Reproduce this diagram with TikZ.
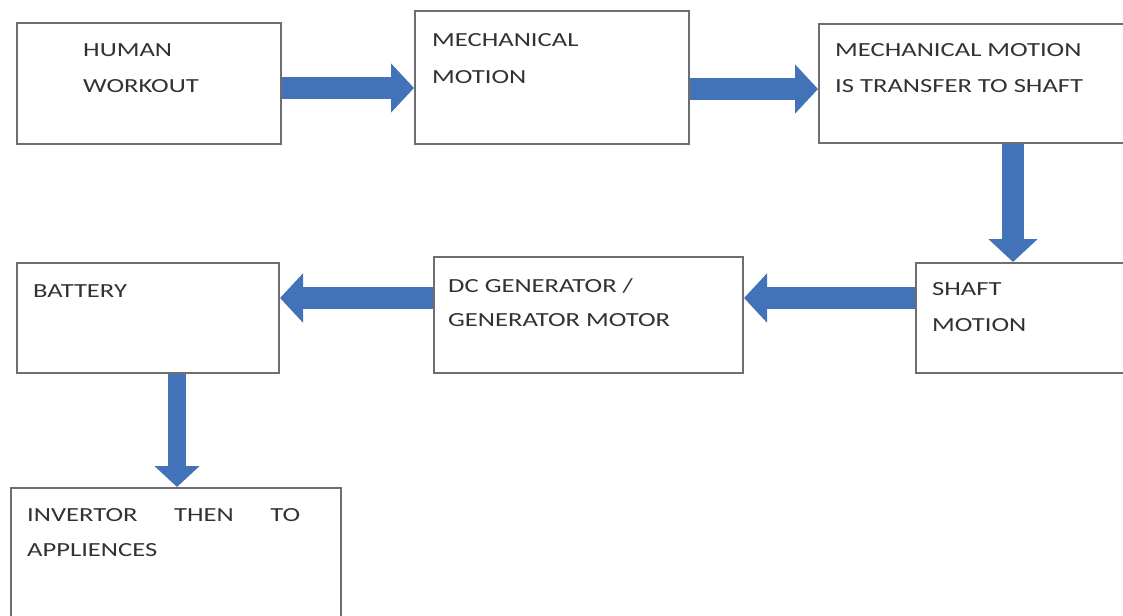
\documentclass[tikz,border=0pt]{standalone}
\usepackage{fontspec}
\setmainfont{Carlito}[FakeStretch=1.33]
\usetikzlibrary{arrows.meta,calc}
\definecolor{arrowblue}{RGB}{66,114,184}
\definecolor{boxgray}{RGB}{110,110,110}
\definecolor{txtgray}{RGB}{50,50,50}
\tikzset{
  stepbox/.style={draw=boxgray,line width=2pt,fill=white,inner sep=0pt,anchor=north west},
  lbl/.style={inner sep=0pt,anchor=base west,text=txtgray,font=\fontsize{20}{24}\selectfont},
  barrow/.style={draw=arrowblue,line width=22pt,-{Triangle[width=48pt,length=23pt]}},
  sarrow/.style={draw=arrowblue,line width=18pt,-{Triangle[width=44pt,length=21pt]}}
}
\begin{document}
\begin{tikzpicture}[x=1pt,y=-1pt]
\useasboundingbox (0,0) rectangle (1123,615);
\clip (0,0) rectangle (1123,615);
% boxes
\node[stepbox,minimum width=264pt,minimum height=121pt] (b1) at (16,22) {};
\node[stepbox,minimum width=274pt,minimum height=133pt] (b2) at (414,10) {};
\node[stepbox,minimum width=390pt,minimum height=119pt] (b3) at (818,23) {};
\node[stepbox,minimum width=262pt,minimum height=110pt] (b4) at (16,262) {};
\node[stepbox,minimum width=309pt,minimum height=116pt] (b5) at (433,256) {};
\node[stepbox,minimum width=300pt,minimum height=110pt] (b6) at (915,262) {};
\node[stepbox,minimum width=330pt,minimum height=160pt] (b7) at (10,487) {};
% texts
\node[lbl] (t1a) at (83,57) {HUMAN};
\node[lbl] (t1b) at (83,93) {WORKOUT};
\node[lbl] (t2a) at (432,47) {MECHANICAL};
\node[lbl] (t2b) at (432,84) {MOTION};
\node[lbl] (t3a) at (835,57) {MECHANICAL MOTION};
\node[lbl] (t3b) at (835,93) {IS TRANSFER TO SHAFT};
\node[lbl] (t4a) at (33,297) {BATTERY};
\node[lbl] (t5a) at (448,292) {DC GENERATOR /};
\node[lbl] (t5b) at (448,326) {GENERATOR MOTOR};
\node[lbl] (t6a) at (932,295) {SHAFT};
\node[lbl] (t6b) at (932,331) {MOTION};
\node[lbl] (t7a) at (27,521) {\makebox[273pt][s]{INVERTOR THEN TO}};
\node[lbl] (t7b) at (27,556) {APPLIENCES};
% arrows
\draw[barrow] ([yshift=-4.5pt]b1.east) -- ([yshift=-4.5pt]b1.east -| b2.west);
\draw[barrow] ([yshift=-11.5pt]b2.east) -- ([yshift=-11.5pt]b2.east -| b3.west);
\draw[barrow] ([xshift=195pt]b3.south west) -- ([xshift=195pt]b3.south west |- b6.north);
\draw[barrow] ([yshift=20pt]b6.west) -- ([yshift=20pt]b6.west -| b5.east);
\draw[barrow] ([yshift=17pt]b5.west) -- ([yshift=17pt]b5.west -| b4.east);
\draw[sarrow] ([xshift=29pt]b4.south) -- ([xshift=29pt]b4.south |- b7.north);
\end{tikzpicture}
\end{document}
